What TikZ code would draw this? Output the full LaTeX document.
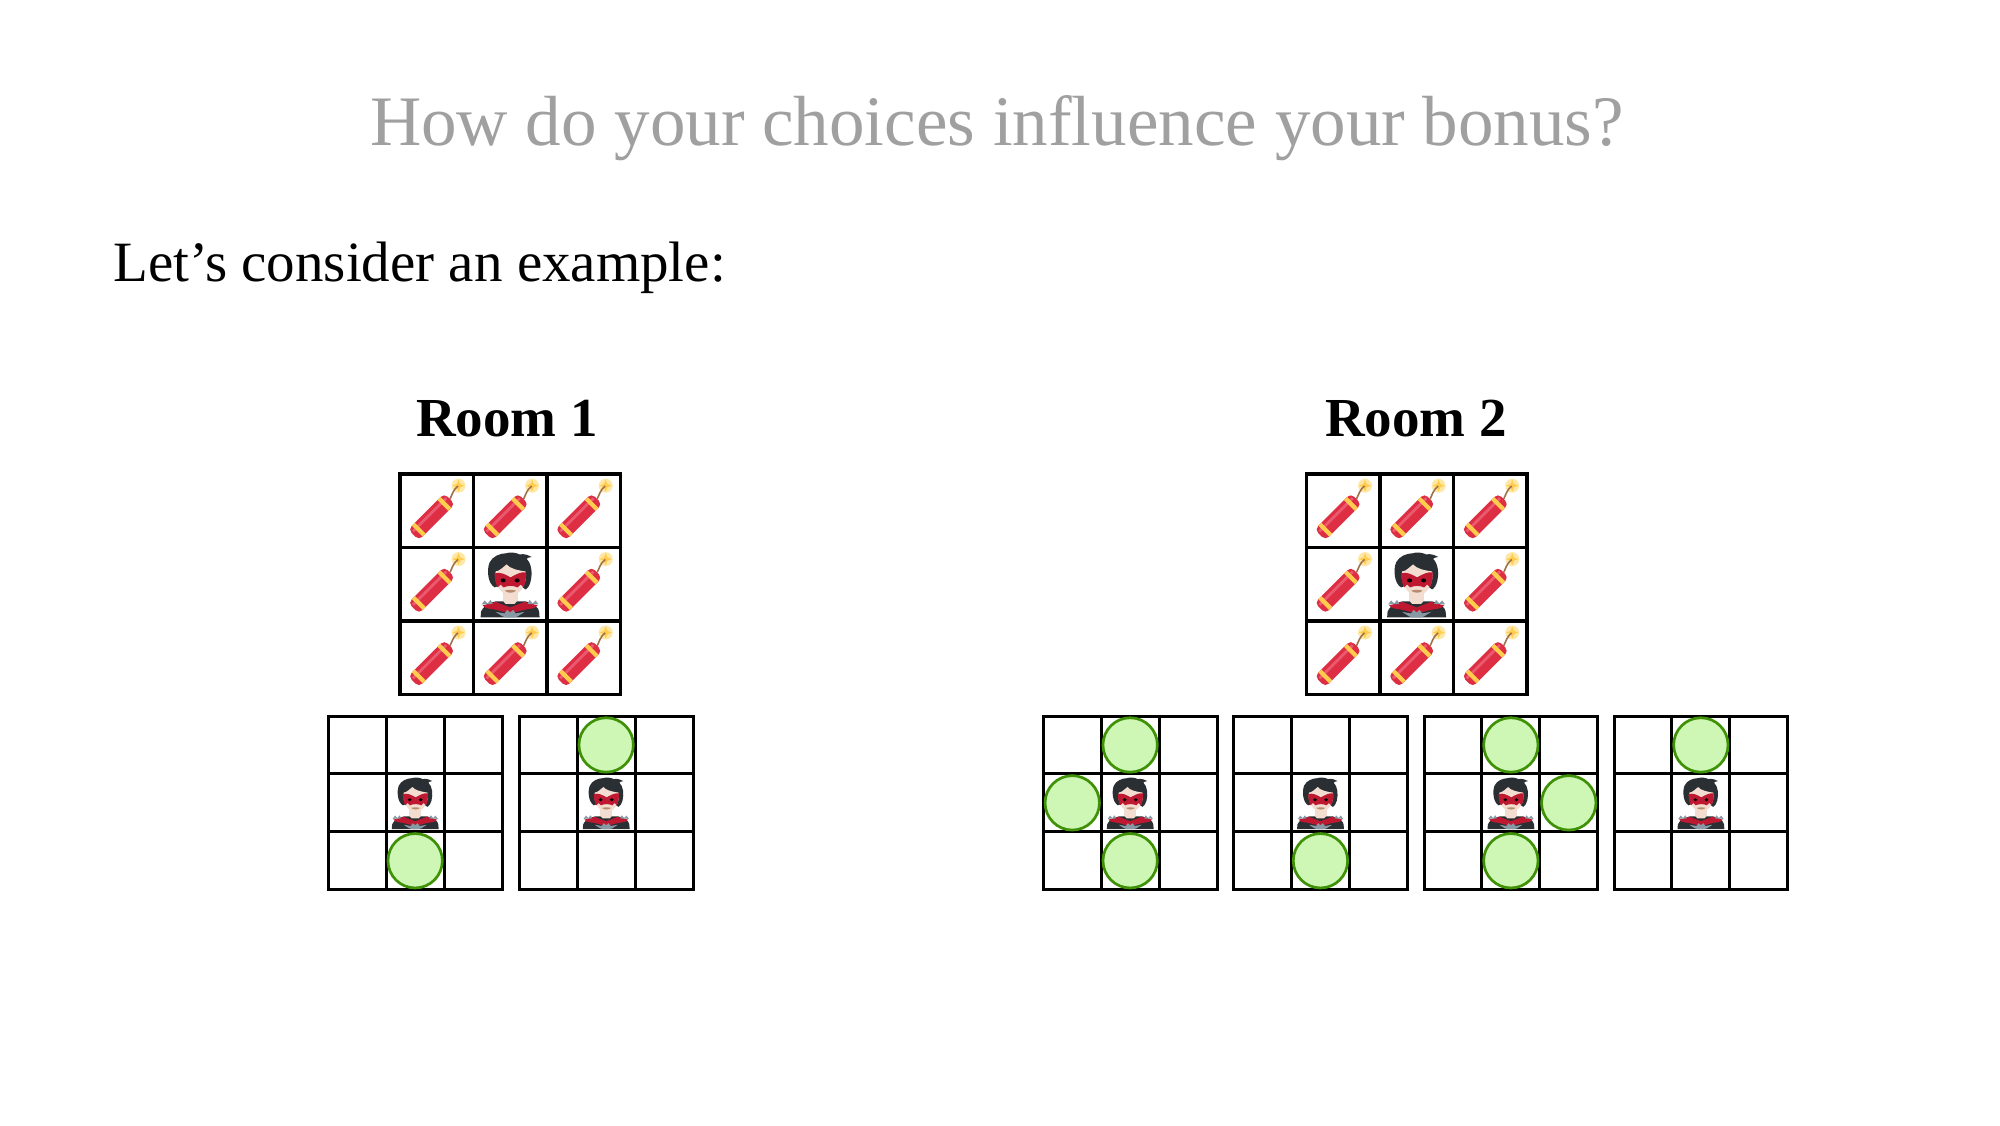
\documentclass[tikz,border=0pt]{standalone}
\usepackage{fontspec}
\setmainfont{Liberation Serif}
\definecolor{titlegrey}{HTML}{A0A0A0}
\definecolor{gridblack}{HTML}{000000}
\definecolor{cgreen}{HTML}{3F9106}
\definecolor{cfill}{HTML}{CEF7B6}
\definecolor{dred}{HTML}{DD2E44}
\definecolor{dlight}{HTML}{EA596E}
\definecolor{dyellow}{HTML}{FFCC4D}
\definecolor{dpale}{HTML}{FFE8A6}
\definecolor{dfuse}{HTML}{A0724A}
\definecolor{hair}{HTML}{292F33}
\definecolor{skin}{HTML}{F3DDD0}
\definecolor{mask}{HTML}{BE1931}
\definecolor{metal}{HTML}{8899A6}
\tikzset{
  x=0.5pt,y=-0.5pt,
  gridline/.style={draw=gridblack,line cap=rect},
  spot/.style={draw=cgreen,fill=cfill,line width=1.35pt},
  heading/.style={inner sep=0pt,anchor=base,font=\fontsize{28.5}{34}\selectfont,text=black},
}
\newcommand{\cracker}[2]{%
  \begin{scope}[shift={(#1,#2)}]
    \fill[dpale] (58.5,11.7) circle (7);
    \fill[dyellow] (58.5,5.7) -- (60.2,10) -- (64.5,11.7) -- (60.2,13.4) -- (58.5,17.7) -- (56.8,13.4) -- (52.5,11.7) -- (56.8,10) -- cycle;
    \draw[dfuse,line width=0.8pt] (50,25) .. controls (52,21) and (53,16) .. (58,12);
    \begin{scope}[shift={(31.6,42.8)},rotate=45]
      \fill[dred,rounded corners=2.4pt] (-25.5,-7.6) rectangle (25.5,7.6);
      \fill[dlight] (-23.5,-4.2) rectangle (23.5,-1.4);
      \fill[dyellow] (-20.3,-7.6) rectangle (-16,7.6);
      \fill[dyellow] (16,-7.6) rectangle (20.3,7.6);
    \end{scope}
  \end{scope}}
\newcommand{\hero}[3]{%
  \begin{scope}[shift={(#1,#2)},scale=#3]
    \fill[hair] (7,70) -- (7.5,64) .. controls (9,60) and (14,56) .. (22,54) -- (52,54) .. controls (60,56) and (65,60) .. (65.5,64) -- (66,70) -- cycle;
    \fill[mask] (9,58) -- (22,54.5) -- (36.5,60) -- (51,54.5) -- (64,58) .. controls (62,62) and (55,61) .. (48,63) -- (36.5,66.5) -- (25,63) .. controls (18,61) and (11,62) .. (9,58) -- cycle;
    \fill[metal] (8,57) -- (11,53) -- (14,56) -- (17,52.5) -- (19,56.5) -- cycle;
    \fill[metal] (65,57) -- (62,53) -- (59,56) -- (56,52.5) -- (54,56.5) -- cycle;
    \fill[metal] (22,64.5) -- (31,66) -- (33.5,62.5) -- (36.5,65) -- (39.5,62.5) -- (42,66) -- (51,64.5) -- (44,69) -- (40,70) -- (33,70) -- (29,69) -- cycle;
    \fill[skin] (29,42) rectangle (44,54);
    \fill[skin] (29,53) -- (44,53) -- (41,56.5) -- (32,56.5) -- cycle;
    \fill[hair] (21,40) .. controls (14,36) and (13,22) .. (16,15) .. controls (19,9) and (26,6) .. (33,5.8) .. controls (36,4.5) and (42,5) .. (46,7) .. controls (51,6) and (55,8) .. (58,9.5) .. controls (55,10) and (54,10.5) .. (53,11.5) .. controls (58,16) and (59,26) .. (57,34) .. controls (56,38) and (54,41) .. (52,42) -- (46,38) -- (26,38) -- cycle;
    \fill[skin] (22,24) .. controls (26,24) and (30,19) .. (33,17) .. controls (36,21) and (44,23) .. (52,24) .. controls (54,33) and (49,47) .. (37,48.5) .. controls (25,47) and (20,33) .. (22,24) -- cycle;
    \fill[mask] (21,26) .. controls (26,24) and (32,27) .. (37,30) .. controls (42,27) and (48,24) .. (52.5,25) .. controls (53,31) and (51,37) .. (50,40) -- (47,37) -- (44,40) .. controls (40,38) and (34,38) .. (30,40) -- (27,37) -- (24,40) .. controls (22,36) and (21,31) .. (21,26) -- cycle;
    \fill[black] (29.5,33) ellipse (2.5 and 2);
    \fill[black] (43.5,33) ellipse (2.5 and 2);
    \fill[fill=dfuse!75!skin] (31,43.2) .. controls (35,42.2) and (39,42.2) .. (42.5,43.2) .. controls (40,46) and (34,46) .. (31,43.2) -- cycle;
  \end{scope}}
\newcommand{\board}[4]{%
  \foreach \k in {0,1,2,3}{
    \draw[gridline,line width=#4] (#1+\k*#3,#2) -- (#1+\k*#3,#2+3*#3);
    \draw[gridline,line width=#4] (#1,#2+\k*#3) -- (#1+3*#3,#2+\k*#3);
  }}
\newcommand{\bigroom}[2]{%
  \foreach \cx/\cy in {0/0,1/0,2/0,0/1,2/1,0/2,1/2,2/2}{
    \cracker{#1+\cx*73.6}{#2+\cy*73.4}
  }
  \hero{#1+73.6}{#2+73.4}{1}
  \board{#1}{#2}{73.5}{1.85pt}}
\newcommand{\smallroom}[1]{%
  \hero{#1+57.9}{773.5}{0.795}
  \board{#1}{716}{57.9}{1.5pt}}
\newcommand{\spotat}[3]{\draw[spot] (#1+57.9*#2+28.95,716+57.9*#3+28.95) circle (27.2);}
\begin{document}
\begin{tikzpicture}
\useasboundingbox (0,0) rectangle (2000,1125);
\fill[white] (0,0) rectangle (2000,1125);
\node[heading,text=titlegrey,font=\fontsize{35.5}{42}\selectfont] (title) at (997,145) {How do your choices influence your bonus?};
\node[heading,anchor=base west] (intro) at (113,281.5) {Let’s consider an example:};
\node[heading,font=\fontsize{27.5}{34}\selectfont\bfseries] (room1) at (507,436) {Room 1};
\node[heading,font=\fontsize{27.5}{34}\selectfont\bfseries] (room2) at (1416,436) {Room 2};
\bigroom{400}{474}
\bigroom{1306.5}{474}
\smallroom{328.3}
\spotat{328.3}{1}{2}
\smallroom{519.3}
\spotat{519.3}{1}{0}
\smallroom{1043.3}
\spotat{1043.3}{1}{0}\spotat{1043.3}{0}{1}\spotat{1043.3}{1}{2}
\smallroom{1233.6}
\spotat{1233.6}{1}{2}
\smallroom{1424}
\spotat{1424}{1}{0}\spotat{1424}{2}{1}\spotat{1424}{1}{2}
\smallroom{1614}
\spotat{1614}{1}{0}
\end{tikzpicture}
\end{document}
